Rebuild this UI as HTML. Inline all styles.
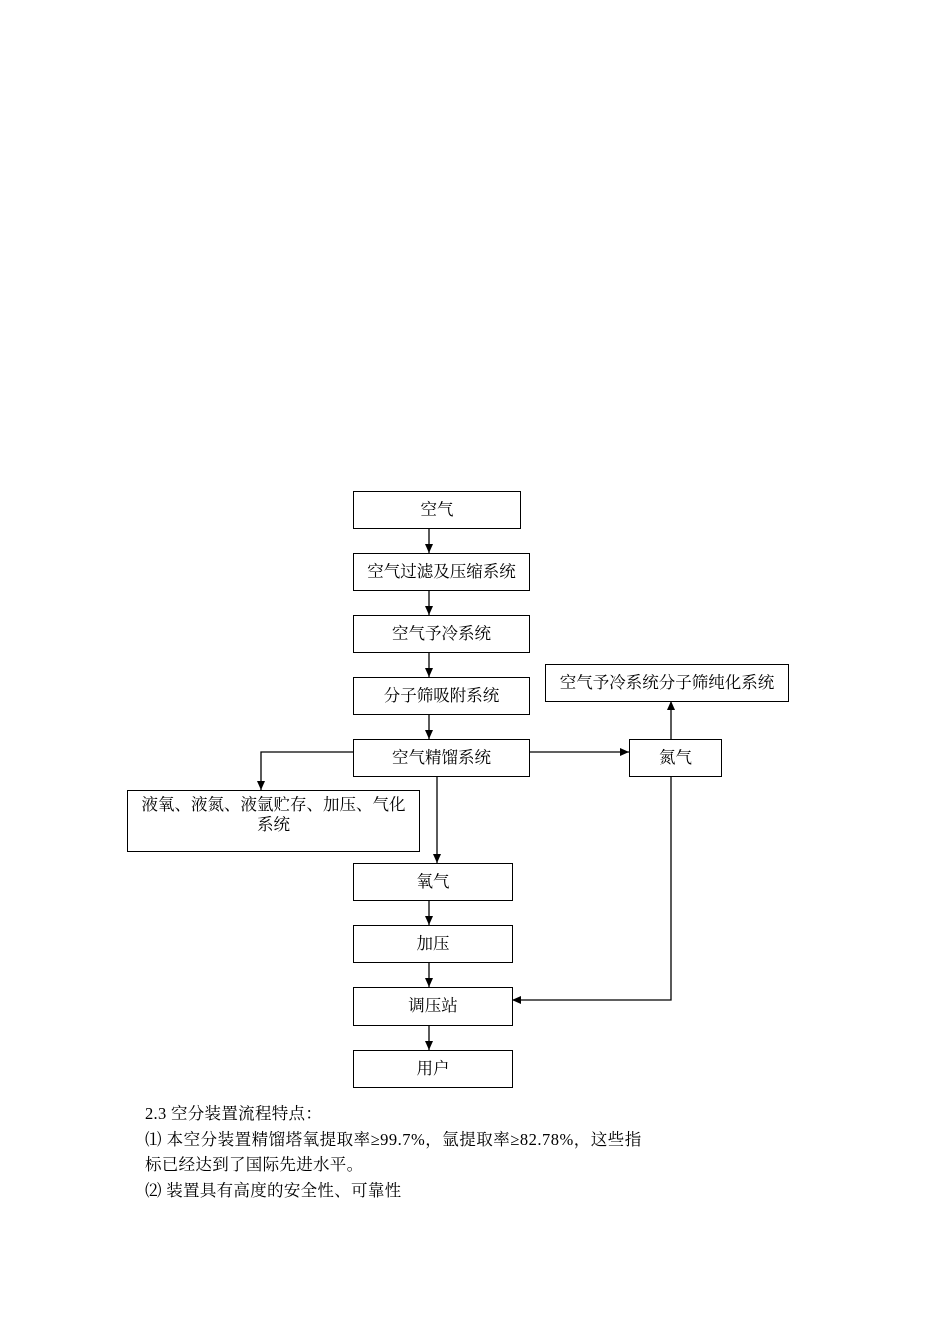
<!DOCTYPE html>
<html><head><meta charset="utf-8"><style>
body{margin:0;width:950px;height:1344px;background:#fff;position:relative;font-family:"Liberation Serif","Noto Serif CJK SC",serif;}
.b{position:absolute;border:1.3px solid #000;box-sizing:border-box;display:flex;justify-content:center;font-size:16.5px;padding-top:4px;color:#000;background:#fff;white-space:nowrap}
.t{position:absolute;left:145px;font-size:16.5px;white-space:nowrap;letter-spacing:0.3px}
svg{position:absolute;left:0;top:0}
</style></head><body>
<svg width="950" height="1344">
<defs><marker id="a" markerWidth="10" markerHeight="10" refX="9" refY="5" orient="auto" markerUnits="userSpaceOnUse"><path d="M0,1 L9,5 L0,9 Z" fill="#000"/></marker></defs>
<g stroke="#000" stroke-width="1.3" fill="none">
<line x1="429" y1="528" x2="429" y2="553" marker-end="url(#a)"/>
<line x1="429" y1="590" x2="429" y2="615" marker-end="url(#a)"/>
<line x1="429" y1="652" x2="429" y2="677" marker-end="url(#a)"/>
<line x1="429" y1="714" x2="429" y2="739" marker-end="url(#a)"/>
<polyline points="353,752 261,752 261,790" marker-end="url(#a)"/>
<line x1="529" y1="752" x2="629" y2="752" marker-end="url(#a)"/>
<line x1="671" y1="739" x2="671" y2="701" marker-end="url(#a)"/>
<line x1="437" y1="776" x2="437" y2="863" marker-end="url(#a)"/>
<line x1="429" y1="900" x2="429" y2="925" marker-end="url(#a)"/>
<line x1="429" y1="962" x2="429" y2="987" marker-end="url(#a)"/>
<polyline points="671,776 671,1000 512,1000" marker-end="url(#a)"/>
<line x1="429" y1="1025" x2="429" y2="1050" marker-end="url(#a)"/>
</g></svg>
<div class="b" style="left:353px;top:491px;width:168px;height:38px">空气</div>
<div class="b" style="left:353px;top:553px;width:177px;height:38px">空气过滤及压缩系统</div>
<div class="b" style="left:353px;top:615px;width:177px;height:38px">空气予冷系统</div>
<div class="b" style="left:353px;top:677px;width:177px;height:38px">分子筛吸附系统</div>
<div class="b" style="left:353px;top:739px;width:177px;height:38px">空气精馏系统</div>
<div class="b" style="left:545px;top:664px;width:244px;height:38px">空气予冷系统分子筛纯化系统</div>
<div class="b" style="left:629px;top:739px;width:93px;height:38px">氮气</div>
<div class="b" style="left:127px;top:790px;width:293px;height:62px;text-align:center;padding:4px 4px 0;line-height:20px">液氧、液氮、液氩贮存、加压、气化<br>系统</div>
<div class="b" style="left:353px;top:863px;width:160px;height:38px">氧气</div>
<div class="b" style="left:353px;top:925px;width:160px;height:38px">加压</div>
<div class="b" style="left:353px;top:987px;width:160px;height:39px">调压站</div>
<div class="b" style="left:353px;top:1050px;width:160px;height:38px">用户</div>
<div class="t" style="top:1100px">2.3 空分装置流程特点：</div>
<div class="t" style="top:1126px;letter-spacing:0.5px">⑴ 本空分装置精馏塔氧提取率≥99.7%，氩提取率≥82.78%，这些指</div>
<div class="t" style="top:1151px">标已经达到了国际先进水平。</div>
<div class="t" style="top:1177px">⑵ 装置具有高度的安全性、可靠性</div>
</body></html>
